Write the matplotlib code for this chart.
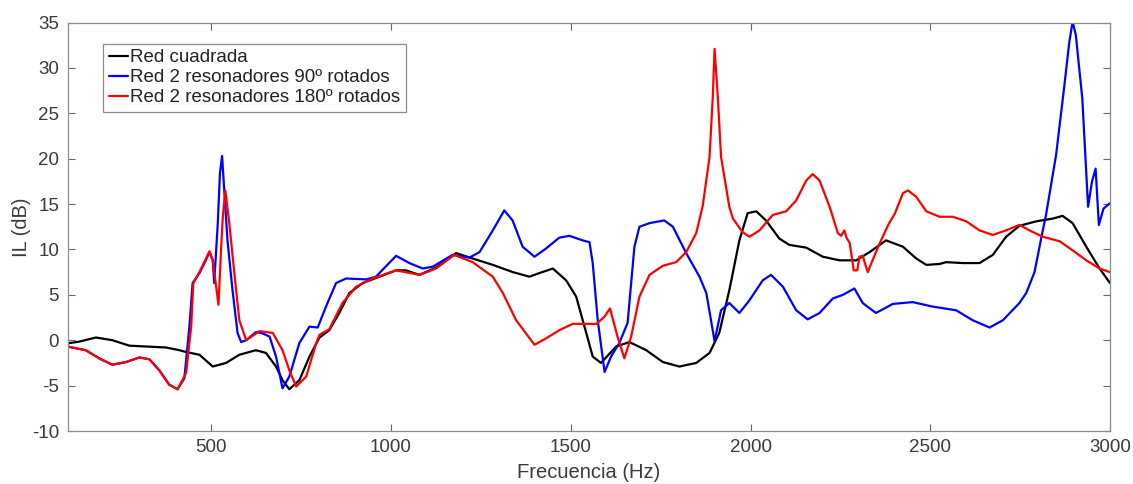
import matplotlib
matplotlib.use("Agg")
import matplotlib.pyplot as plt

plt.rcParams['font.family'] = ['Liberation Sans', 'DejaVu Sans']
plt.rcParams['axes.unicode_minus'] = False

# Red cuadrada (black)
f_black = [100, 133, 179, 225, 272, 374, 411, 430, 467, 504, 541, 578, 624, 652, 680,
           698, 717, 745, 773, 801, 828, 856, 884, 921, 968, 1014, 1041, 1079, 1125,
           1181, 1227, 1283, 1339, 1385, 1413, 1450, 1487, 1515, 1543, 1561, 1584,
           1626, 1663, 1710, 1756, 1802, 1849, 1886, 1913, 1941, 1969, 1992, 2016,
           2043, 2080, 2108, 2155, 2201, 2248, 2294, 2331, 2377, 2424, 2461, 2489,
           2526, 2544, 2590, 2637, 2674, 2711, 2748, 2795, 2841, 2868, 2896, 2934,
           2971, 3000]
il_black = [-0.35, -0.15, 0.3, 0.0, -0.6, -0.8, -1.1, -1.3, -1.6, -2.9, -2.5, -1.6, -1.1,
            -1.4, -2.9, -4.4, -5.4, -4.4, -1.8, 0.3, 1.1, 3.0, 5.2, 6.3, 7.0, 7.7, 7.7,
            7.2, 8.0, 9.6, 9.0, 8.3, 7.5, 7.0, 7.4, 7.9, 6.6, 4.8, 0.8, -1.8, -2.5,
            -0.7, -0.2, -1.1, -2.4, -2.9, -2.5, -1.4, 0.8, 5.5, 11.0, 14.0, 14.2,
            13.2, 11.2, 10.5, 10.2, 9.2, 8.8, 8.8, 9.7, 11.0, 10.3, 9.0, 8.3,
            8.4, 8.6, 8.5, 8.5, 9.4, 11.4, 12.6, 13.1, 13.4, 13.7, 12.9, 10.3,
            7.9, 6.3]

# Red 2 resonadores 90º rotados (blue)
f_blue = [100, 151, 188, 225, 263, 300, 328, 355, 383, 406, 425, 439, 448, 467, 481,
          495, 504, 508, 518, 524, 530, 536, 545, 559, 573, 583, 597, 624, 640, 662,
          680, 698, 717, 745, 773, 796, 819, 847, 875, 931, 958, 1014, 1051, 1088,
          1116, 1171, 1218, 1246, 1283, 1315, 1338, 1366, 1399, 1431, 1468, 1496,
          1533, 1552, 1561, 1575, 1594, 1612, 1635, 1658, 1677, 1691, 1719, 1760,
          1784, 1821, 1858, 1877, 1900, 1918, 1941, 1969, 1997, 2034, 2057, 2090,
          2127, 2159, 2192, 2229, 2257, 2289, 2312, 2349, 2396, 2451, 2507, 2572,
          2618, 2665, 2702, 2748, 2767, 2790, 2813, 2822, 2850, 2872, 2887, 2896,
          2905, 2923, 2939, 2950, 2960, 2969, 2982, 3000]
il_blue = [-0.7, -1.1, -2.0, -2.7, -2.4, -1.9, -2.1, -3.3, -4.9, -5.4, -4.2, 1.5, 6.3,
           7.4, 8.5, 9.7, 8.8, 6.3, 12.9, 18.4, 20.3, 16.5, 11.0, 5.5, 0.8, -0.2, 0.0,
           0.9, 0.8, 0.4, -1.8, -5.3, -4.0, -0.3, 1.5, 1.4, 3.7, 6.3, 6.8, 6.7, 7.0,
           9.3, 8.5, 7.9, 8.1, 9.4, 9.1, 9.7, 12.1, 14.3, 13.2, 10.3, 9.2, 10.1, 11.3,
           11.5, 11.0, 10.8, 8.5, 2.2, -3.5, -1.8, -0.3, 1.9, 10.3, 12.5, 12.9, 13.2,
           12.5, 9.6, 7.0, 5.2, -0.1, 3.3, 4.1, 3.0, 4.4, 6.6, 7.2, 5.9,
           3.3, 2.3, 3.0, 4.6, 5.0, 5.7, 4.1, 3.0, 4.0, 4.2, 3.7, 3.3,
           2.2, 1.4, 2.2, 4.1, 5.2, 7.5, 12.1, 13.8, 20.4, 27.7, 32.9, 35.1,
           33.6, 26.6, 14.7, 17.5, 18.9, 12.7, 14.5, 15.1]

# Red 2 resonadores 180º rotados (red)
f_red = [100, 151, 188, 225, 263, 300, 328, 355, 383, 406, 430, 444, 450, 467, 495,
         504, 520, 527, 532, 539, 550, 564, 578, 597, 634, 671, 698, 717, 736, 764,
         792, 801, 828, 865, 903, 949, 1014, 1079, 1125, 1176, 1227, 1283, 1311,
         1348, 1399, 1431, 1468, 1505, 1571, 1594, 1609, 1630, 1649, 1668, 1691,
         1719, 1756, 1793, 1821, 1849, 1867, 1886, 1895, 1900, 1909, 1918, 1941,
         1951, 1978, 1997, 2025, 2062, 2099, 2127, 2155, 2173, 2192, 2220, 2243,
         2252, 2261, 2267, 2276, 2283, 2287, 2297, 2303, 2312, 2326, 2355, 2383,
         2402, 2424, 2438, 2461, 2489, 2526, 2563, 2600, 2637, 2674, 2711, 2748,
         2776, 2813, 2860, 2896, 2934, 2971, 3000]
il_red = [-0.7, -1.1, -2.0, -2.7, -2.4, -1.9, -2.1, -3.3, -4.9, -5.4, -3.6, 1.5, 6.3,
          7.5, 9.8, 8.8, 3.9, 9.9, 13.6, 16.5, 12.9, 7.4, 2.2, 0.0, 1.0, 0.8, -1.1,
          -3.3, -5.1, -4.0, -0.3, 0.6, 1.2, 4.1, 5.9, 6.8, 7.7, 7.2, 7.9, 9.4, 8.6,
          7.0, 5.2, 2.2, -0.5, 0.2, 1.1, 1.8, 1.8, 2.6, 3.5, 0.4, -2.0, 0.4, 4.8,
          7.2, 8.2, 8.6, 9.7, 11.8, 14.8, 20.2, 26.8, 32.1, 26.8, 20.2, 14.7,
          13.4, 11.9, 11.4, 12.1, 13.8, 14.2, 15.4, 17.6, 18.3, 17.6, 14.7, 11.8,
          11.5, 12.1, 11.3, 10.7, 8.8, 7.7, 7.7, 9.2, 9.3, 7.5, 10.3, 12.7,
          14.0, 16.2, 16.5, 15.8, 14.2, 13.6, 13.6, 13.1, 12.1, 11.6, 12.1, 12.7,
          12.1, 11.4, 10.9, 9.9, 8.8, 7.9, 7.5]

labels = ["Red cuadrada", "Red 2 resonadores 90º rotados", "Red 2 resonadores 180º rotados"]
x_ticks = [500, 1000, 1500, 2000, 2500, 3000]
y_ticks = [-10, -5, 0, 5, 10, 15, 20, 25, 30, 35]

fig = plt.figure(figsize=(11.33, 4.84), dpi=100)
ax = fig.add_axes([0.0596, 0.1095, 0.9201, 0.844])

kw = dict(lw=1.6, solid_joinstyle='round', solid_capstyle='round')
ax.plot(f_black, il_black, color='#000000', label=labels[0], **kw)
ax.plot(f_blue, il_blue, color='#0000ff', label=labels[1], **kw)
ax.plot(f_red, il_red, color='#ff0000', label=labels[2], **kw)

ax.set_xlim(100, 3000)
ax.set_ylim(-10, 35)
ax.set_xticks(x_ticks)
ax.set_yticks(y_ticks)
ax.tick_params(direction='in', top=True, right=True, length=5, width=0.8,
               colors='#666666', labelsize=13.5, labelcolor='#3a3a3a', pad=6)
for s in ax.spines.values():
    s.set_color('#8c8c8c')
    s.set_linewidth(0.9)

ax.set_xlabel("Frecuencia (Hz)", fontsize=14.5, color='#3a3a3a', labelpad=5)
ax.set_ylabel("IL (dB)", fontsize=14.5, color='#3a3a3a', labelpad=1)

leg = ax.legend(loc='upper left', bbox_to_anchor=(0.034, 0.948), fontsize=13.5,
                handlelength=1.05, handletextpad=0.1, borderpad=0.3,
                labelspacing=0.15, fancybox=False, framealpha=1, borderaxespad=0)
leg.get_frame().set_edgecolor('#8c8c8c')
leg.get_frame().set_linewidth(0.9)
for t in leg.get_texts():
    t.set_color('#222222')

fig.savefig("out.png", dpi=100)
